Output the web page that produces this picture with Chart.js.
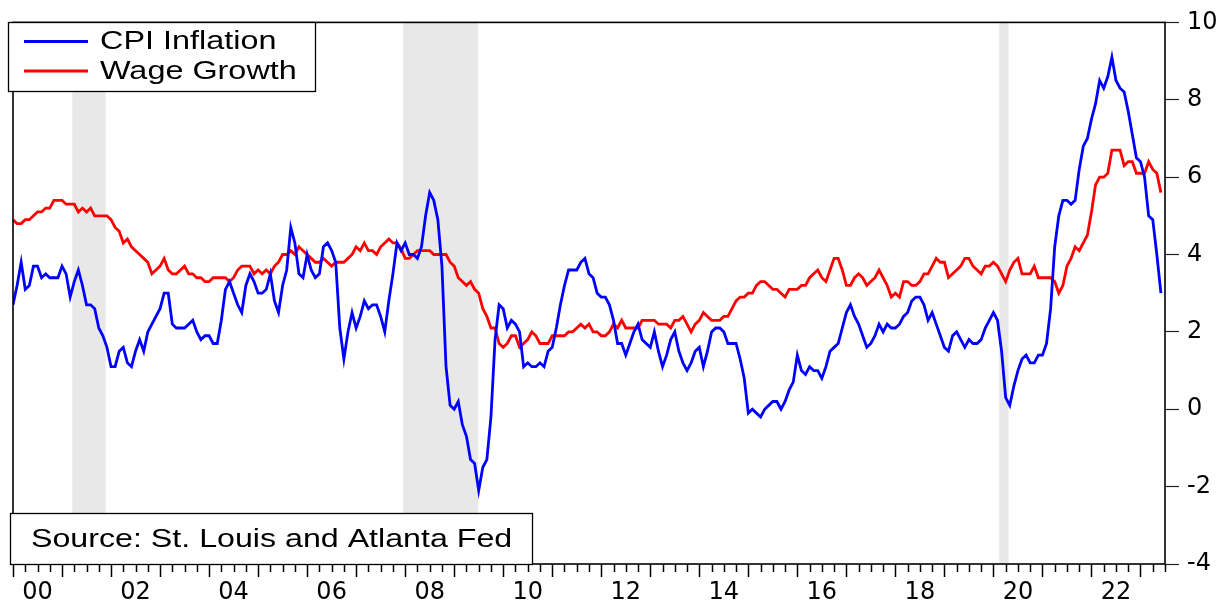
<!DOCTYPE html>
<html>
<head>
<meta charset="utf-8">
<script src="https://cdn.jsdelivr.net/npm/chart.js@4.4.0/dist/chart.umd.min.js"></script>
<style>
  html, body { margin: 0; padding: 0; background: #fff; }
  #wrap { width: 1228px; height: 605px; }
</style>
</head>
<body>
<div id="wrap"><canvas id="chart" width="1228" height="605"></canvas></div>
<script>
// monthly, Jan 2000 .. Jun 2023, year-over-year %
const startYear = 2000;

const cpiInflation = [
  2.7, 3.2, 3.8, 3.1, 3.2, 3.7, 3.7, 3.4, 3.5, 3.4, 3.4, 3.4,
  3.7, 3.5, 2.9, 3.3, 3.6, 3.2, 2.7, 2.7, 2.6, 2.1, 1.9, 1.6,
  1.1, 1.1, 1.5, 1.6, 1.2, 1.1, 1.5, 1.8, 1.5, 2.0, 2.2, 2.4,
  2.6, 3.0, 3.0, 2.2, 2.1, 2.1, 2.1, 2.2, 2.3, 2.0, 1.8, 1.9,
  1.9, 1.7, 1.7, 2.3, 3.1, 3.3, 3.0, 2.7, 2.5, 3.2, 3.5, 3.3,
  3.0, 3.0, 3.1, 3.5, 2.8, 2.5, 3.2, 3.6, 4.7, 4.3, 3.5, 3.4,
  4.0, 3.6, 3.4, 3.5, 4.2, 4.3, 4.1, 3.8, 2.1, 1.3, 2.0, 2.5,
  2.1, 2.4, 2.8, 2.6, 2.7, 2.7, 2.4, 2.0, 2.8, 3.5, 4.3, 4.1,
  4.3, 4.0, 4.0, 3.9, 4.2, 5.0, 5.6, 5.4, 4.9, 3.7, 1.1, 0.1,
  0.0, 0.2, -0.4, -0.7, -1.3, -1.4, -2.1, -1.5, -1.3, -0.2, 1.8, 2.7,
  2.6, 2.1, 2.3, 2.2, 2.0, 1.1, 1.2, 1.1, 1.1, 1.2, 1.1, 1.5,
  1.6, 2.1, 2.7, 3.2, 3.6, 3.6, 3.6, 3.8, 3.9, 3.5, 3.4, 3.0,
  2.9, 2.9, 2.7, 2.3, 1.7, 1.7, 1.4, 1.7, 2.0, 2.2, 1.8, 1.7,
  1.6, 2.0, 1.5, 1.1, 1.4, 1.8, 2.0, 1.5, 1.2, 1.0, 1.2, 1.5,
  1.6, 1.1, 1.5, 2.0, 2.1, 2.1, 2.0, 1.7, 1.7, 1.7, 1.3, 0.8,
  -0.1, 0.0, -0.1, -0.2, 0.0, 0.1, 0.2, 0.2, 0.0, 0.2, 0.5, 0.7,
  1.4, 1.0, 0.9, 1.1, 1.0, 1.0, 0.8, 1.1, 1.5, 1.6, 1.7, 2.1,
  2.5, 2.7, 2.4, 2.2, 1.9, 1.6, 1.7, 1.9, 2.2, 2.0, 2.2, 2.1,
  2.1, 2.2, 2.4, 2.5, 2.8, 2.9, 2.9, 2.7, 2.3, 2.5, 2.2, 1.9,
  1.6, 1.5, 1.9, 2.0, 1.8, 1.6, 1.8, 1.7, 1.7, 1.8, 2.1, 2.3,
  2.5, 2.3, 1.5, 0.3, 0.1, 0.6, 1.0, 1.3, 1.4, 1.2, 1.2, 1.4,
  1.4, 1.7, 2.6, 4.2, 5.0, 5.4, 5.4, 5.3, 5.4, 6.2, 6.8, 7.0,
  7.5, 7.9, 8.5, 8.3, 8.6, 9.1, 8.5, 8.3, 8.2, 7.7, 7.1, 6.5,
  6.4, 6.0, 5.0, 4.9, 4.0, 3.0
];

const wageGrowth = [
  4.9, 4.8, 4.8, 4.9, 4.9, 5.0, 5.1, 5.1, 5.2, 5.2, 5.4, 5.4,
  5.4, 5.3, 5.3, 5.3, 5.1, 5.2, 5.1, 5.2, 5.0, 5.0, 5.0, 5.0,
  4.9, 4.7, 4.6, 4.3, 4.4, 4.2, 4.1, 4.0, 3.9, 3.8, 3.5, 3.6,
  3.7, 3.9, 3.6, 3.5, 3.5, 3.6, 3.7, 3.5, 3.5, 3.4, 3.4, 3.3,
  3.3, 3.4, 3.4, 3.4, 3.4, 3.3, 3.4, 3.6, 3.7, 3.7, 3.7, 3.5,
  3.6, 3.5, 3.6, 3.5, 3.7, 3.8, 4.0, 4.0, 4.1, 4.0, 4.2, 4.1,
  4.0, 3.9, 3.8, 3.8, 3.9, 3.8, 3.7, 3.8, 3.8, 3.8, 3.9, 4.0,
  4.2, 4.1, 4.3, 4.1, 4.1, 4.0, 4.2, 4.3, 4.4, 4.3, 4.3, 4.15,
  3.9, 3.9, 4.0, 4.1, 4.1, 4.1, 4.1, 4.0, 4.0, 4.0, 4.0, 3.8,
  3.7, 3.4, 3.3, 3.2, 3.3, 3.1, 3.0, 2.6, 2.4, 2.1, 2.1, 1.7,
  1.6, 1.7, 1.9, 1.9, 1.6, 1.7, 1.8, 2.0, 1.9, 1.7, 1.7, 1.7,
  1.9, 1.9, 1.9, 1.9, 2.0, 2.0, 2.1, 2.2, 2.1, 2.2, 2.0, 2.0,
  1.9, 1.9, 2.0, 2.2, 2.1, 2.3, 2.1, 2.1, 2.1, 2.1, 2.3, 2.3,
  2.3, 2.3, 2.2, 2.2, 2.2, 2.1, 2.3, 2.3, 2.4, 2.2, 2.0, 2.2,
  2.3, 2.5, 2.4, 2.3, 2.3, 2.3, 2.4, 2.4, 2.6, 2.8, 2.9, 2.9,
  3.0, 3.0, 3.2, 3.3, 3.3, 3.2, 3.1, 3.1, 3.0, 2.9, 3.1, 3.1,
  3.1, 3.2, 3.2, 3.4, 3.5, 3.6, 3.4, 3.3, 3.6, 3.9, 3.9, 3.6,
  3.2, 3.2, 3.4, 3.5, 3.4, 3.2, 3.3, 3.4, 3.6, 3.4, 3.2, 2.9,
  3.0, 2.9, 3.3, 3.3, 3.2, 3.2, 3.3, 3.5, 3.5, 3.7, 3.9, 3.8,
  3.8, 3.4, 3.5, 3.6, 3.7, 3.9, 3.9, 3.7, 3.6, 3.5, 3.7, 3.7,
  3.8, 3.7, 3.5, 3.3, 3.6, 3.8, 3.9, 3.5, 3.5, 3.5, 3.7, 3.4,
  3.4, 3.4, 3.4, 3.3, 3.0, 3.2, 3.7, 3.9, 4.2, 4.1, 4.3, 4.5,
  5.1, 5.8, 6.0, 6.0, 6.1, 6.7, 6.7, 6.7, 6.3, 6.4, 6.4, 6.1,
  6.1, 6.1, 6.4, 6.2, 6.1, 5.6
];

const yTickValues = [-4, -2, 0, 2, 4, 6, 8, 10];
const labelYears = [2000, 2002, 2004, 2006, 2008, 2010, 2012, 2014, 2016, 2018, 2020, 2022];
// shaded recessions, in decimal years
const recessions = [[2001.21, 2001.89], [2007.96, 2009.49], [2020.12, 2020.31]];
const seriesNames = ['CPI Inflation', 'Wage Growth'];
const seriesColors = ['#0000ff', '#ff0000'];
const sourceNote = 'Source: St. Louis and Atlanta Fed';

const FONT = 'DejaVu Sans';
const BOX_FONT = 'Liberation Sans';
const months = cpiInflation.map((_, i) => startYear + i / 12);
const toPoints = arr => arr.map((v, i) => ({ x: months[i], y: v }));

// boxes, frame, recession bars and quarterly ticks
const framePlugin = {
  id: 'frame',
  beforeDatasetsDraw(chart) {
    const { ctx, chartArea: a, scales: { x } } = chart;
    ctx.save();
    ctx.fillStyle = '#e8e8e8';
    recessions.forEach(([s, e]) => {
      const x0 = x.getPixelForValue(s);
      const x1 = x.getPixelForValue(e);
      ctx.fillRect(x0, a.top, x1 - x0, a.bottom - a.top);
    });
    ctx.restore();
  },
  afterDatasetsDraw(chart) {
    const { ctx, chartArea: a, scales: { x } } = chart;
    ctx.save();
    ctx.strokeStyle = '#000';
    ctx.lineWidth = 1.6;
    ctx.strokeRect(a.left, a.top, a.right - a.left, a.bottom - a.top);

    // x ticks: long at each year, short each quarter
    ctx.lineWidth = 1.5;
    ctx.beginPath();
    for (let q = 0; q <= 94; q++) {
      const px = Math.round(x.getPixelForValue(startYear + q / 4)) + 0.5;
      const len = q % 4 === 0 ? 13 : 8;
      ctx.moveTo(px, a.bottom);
      ctx.lineTo(px, a.bottom + len);
    }
    ctx.stroke();

    // legend box
    ctx.lineWidth = 1.3;
    ctx.fillStyle = '#fff';
    ctx.fillRect(8, 22, 307, 69);
    ctx.strokeRect(8.5, 22.5, 307, 69);
    const rows = [41.5, 71];
    seriesNames.forEach((name, i) => {
      ctx.strokeStyle = seriesColors[i];
      ctx.lineWidth = 2.8;
      ctx.beginPath();
      ctx.moveTo(24, rows[i]);
      ctx.lineTo(88, rows[i]);
      ctx.stroke();
      drawStretched(ctx, name, 100, rows[i] + 7.8, 1.27);
    });

    // source box
    ctx.strokeStyle = '#000';
    ctx.lineWidth = 1.3;
    ctx.fillStyle = '#fff';
    ctx.fillRect(10, 513, 522, 51);
    ctx.strokeRect(10.5, 513.5, 522, 51);
    drawStretched(ctx, sourceNote, 31, 546.5, 1.262);
    ctx.restore();
  }
};

function drawStretched(ctx, text, x, y, sx) {
  ctx.save();
  ctx.font = '25.5px "' + BOX_FONT + '"';
  ctx.fillStyle = '#000';
  ctx.textBaseline = 'alphabetic';
  ctx.translate(x, y);
  ctx.scale(sx, 1);
  ctx.fillText(text, 0, 0);
  ctx.restore();
}

const ctx = document.getElementById('chart').getContext('2d');
new Chart(ctx, {
  type: 'line',
  data: {
    datasets: [
      {
        label: seriesNames[0],
        data: toPoints(cpiInflation),
        borderColor: seriesColors[0],
        borderWidth: 2.8,
        pointRadius: 0,
        tension: 0,
        fill: false
      },
      {
        label: seriesNames[1],
        data: toPoints(wageGrowth),
        borderColor: seriesColors[1],
        borderWidth: 2.8,
        pointRadius: 0,
        tension: 0,
        fill: false
      }
    ]
  },
  options: {
    responsive: false,
    animation: false,
    devicePixelRatio: 1,
    layout: { padding: { left: 13, top: 22, right: 0, bottom: 0 } },
    plugins: {
      legend: { display: false },
      tooltip: { enabled: false }
    },
    scales: {
      x: {
        type: 'linear',
        position: 'bottom',
        min: 2000,
        max: 2023.5,
        afterBuildTicks: s => { s.ticks = labelYears.map(y => ({ value: y + 0.5 })); },
        afterFit: s => { s.height = 41; },
        grid: { display: false, drawTicks: false },
        border: { display: false },
        ticks: {
          autoSkip: false,
          maxRotation: 0,
          padding: 14,
          color: '#000',
          font: { family: FONT, size: 24 },
          callback: v => String(Math.round(v - 0.5)).slice(2)
        }
      },
      y: {
        position: 'right',
        min: -4,
        max: 10,
        afterBuildTicks: s => { s.ticks = yTickValues.map(v => ({ value: v })); },
        afterFit: s => { s.width = 63; },
        grid: { drawOnChartArea: false, drawTicks: true, tickLength: 14, tickColor: '#222', tickWidth: 1.2 },
        border: { display: false },
        ticks: {
          padding: 8,
          color: '#000',
          font: { family: FONT, size: 24 }
        }
      }
    }
  },
  plugins: [framePlugin]
});
</script>
</body>
</html>
